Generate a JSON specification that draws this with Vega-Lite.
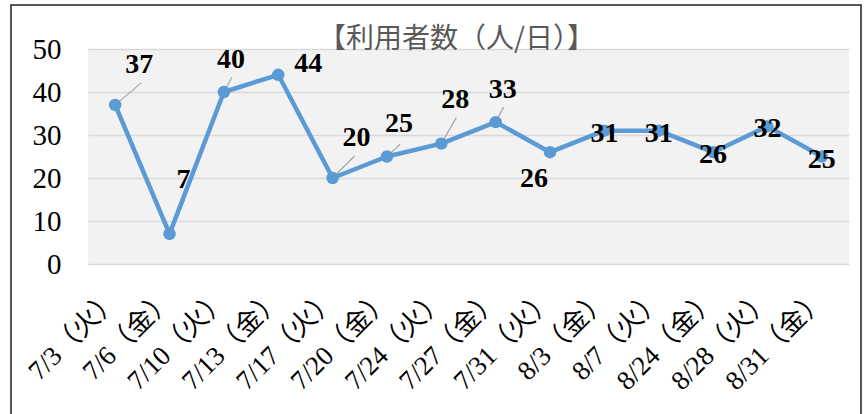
{
  "$schema": "https://vega.github.io/schema/vega-lite/v6.json",
  "width": 761,
  "height": 215,
  "autosize": {"type": "none"},
  "padding": {"left": 88, "top": 49, "right": 18, "bottom": 150},
  "background": "white",
  "config": {"view": {"stroke": null, "fill": "#f2f2f2"}},
  "title": {
    "text": "【利用者数（人/日）】",
    "font": "Noto Sans CJK JP",
    "fontSize": 28,
    "fontWeight": "normal",
    "color": "#595959",
    "anchor": "middle",
    "frame": "group",
    "orient": "top",
    "offset": 0,
    "baseline": "middle",
    "dy": 64,
    "dx": -12
  },
  "datasets": {
    "users": [
      {"date": "7/3（火）", "users": 37},
      {"date": "7/6（金）", "users": 7},
      {"date": "7/10（火）", "users": 40},
      {"date": "7/13（金）", "users": 44},
      {"date": "7/17（火）", "users": 20},
      {"date": "7/20（金）", "users": 25},
      {"date": "7/24（火）", "users": 28},
      {"date": "7/27（金）", "users": 33},
      {"date": "7/31（火）", "users": 26},
      {"date": "8/3（金）", "users": 31},
      {"date": "8/7（火）", "users": 31},
      {"date": "8/24（金）", "users": 26},
      {"date": "8/28（火）", "users": 32},
      {"date": "8/31（金）", "users": 25}
    ],
    "one": [{"k": 1}]
  },
  "data": {"name": "users"},
  "resolve": {"scale": {"x": "independent", "y": "independent"}, "axis": {"x": "independent", "y": "independent"}},
  "layer": [
    {
      "encoding": {
        "x": {
          "field": "date",
          "type": "nominal",
          "sort": null,
          "scale": {
            "type": "band",
            "domain": ["7/3（火）", "7/6（金）", "7/10（火）", "7/13（金）", "7/17（火）", "7/20（金）", "7/24（火）", "7/27（金）", "7/31（火）", "8/3（金）", "8/7（火）", "8/24（金）", "8/28（火）", "8/31（金）"],
            "paddingInner": 0,
            "paddingOuter": 0
          },
          "axis": {
            "orient": "bottom",
            "title": null,
            "domain": false,
            "ticks": false,
            "grid": false,
            "labelAngle": -45,
            "labelAlign": "right",
            "labelBaseline": "middle",
            "labelPadding": 30,
            "labelFont": "Liberation Serif, Noto Sans CJK JP",
            "labelFontSize": 27,
            "labelColor": "#000000",
            "labelLimit": 300,
            "labelOverlap": false,
            "labelBound": false
          }
        },
        "y": {
          "field": "users",
          "type": "quantitative",
          "scale": {"domain": [0, 50], "nice": false, "zero": true},
          "axis": {
            "orient": "left",
            "title": null,
            "domain": false,
            "ticks": false,
            "grid": true,
            "gridColor": "#d9d9d9",
            "gridWidth": 1.5,
            "labelPadding": 27,
            "labelAlign": "right",
            "labelFont": "Liberation Serif",
            "labelFontSize": 29,
            "labelColor": "#000000",
            "values": [0, 10, 20, 30, 40, 50]
          }
        }
      },
      "layer": [
        {
          "transform": [{"filter": {"field": "date", "oneOf": ["7/3（火）"]}}],
          "mark": {"type": "rule", "color": "#a6a6a6", "strokeWidth": 1.2, "x2Offset": 26, "y2Offset": -22},
          "encoding": {
            "x2": {"field": "date", "bandPosition": 0.5},
            "y2": {"field": "users"}
          }
        },
        {
          "transform": [{"filter": {"field": "date", "oneOf": ["7/6（金）"]}}],
          "mark": {"type": "rule", "color": "#a6a6a6", "strokeWidth": 1.2, "x2Offset": 15, "y2Offset": -34},
          "encoding": {
            "x2": {"field": "date", "bandPosition": 0.5},
            "y2": {"field": "users"}
          }
        },
        {
          "transform": [{"filter": {"field": "date", "oneOf": ["7/10（火）", "7/27（金）"]}}],
          "mark": {"type": "rule", "color": "#a6a6a6", "strokeWidth": 1.2, "x2Offset": 8, "y2Offset": -15},
          "encoding": {
            "x2": {"field": "date", "bandPosition": 0.5},
            "y2": {"field": "users"}
          }
        },
        {
          "transform": [{"filter": {"field": "date", "oneOf": ["7/17（火）"]}}],
          "mark": {"type": "rule", "color": "#a6a6a6", "strokeWidth": 1.2, "x2Offset": 22, "y2Offset": -22},
          "encoding": {
            "x2": {"field": "date", "bandPosition": 0.5},
            "y2": {"field": "users"}
          }
        },
        {
          "transform": [{"filter": {"field": "date", "oneOf": ["7/20（金）"]}}],
          "mark": {"type": "rule", "color": "#a6a6a6", "strokeWidth": 1.2, "x2Offset": 13, "y2Offset": -12},
          "encoding": {
            "x2": {"field": "date", "bandPosition": 0.5},
            "y2": {"field": "users"}
          }
        },
        {
          "transform": [{"filter": {"field": "date", "oneOf": ["7/24（火）"]}}],
          "mark": {"type": "rule", "color": "#a6a6a6", "strokeWidth": 1.2, "x2Offset": 15, "y2Offset": -26},
          "encoding": {
            "x2": {"field": "date", "bandPosition": 0.5},
            "y2": {"field": "users"}
          }
        },
        {
          "mark": {"type": "line", "color": "#5b9bd5", "strokeWidth": 4.5, "strokeJoin": "round"}
        },
        {
          "mark": {"type": "point", "filled": true, "size": 155, "color": "#5b9bd5", "opacity": 1}
        },
        {
          "transform": [{"filter": {"field": "date", "oneOf": ["7/3（火）", "7/17（火）"]}}],
          "mark": {"type": "text", "font": "Liberation Serif", "fontSize": 28, "fontWeight": "bold", "color": "#000000", "baseline": "middle", "align": "center", "dx": 24, "dy": -40},
          "encoding": {"text": {"field": "users", "type": "quantitative"}}
        },
        {
          "transform": [{"filter": {"field": "date", "oneOf": ["7/24（火）"]}}],
          "mark": {"type": "text", "font": "Liberation Serif", "fontSize": 28, "fontWeight": "bold", "color": "#000000", "baseline": "middle", "align": "center", "dx": 14, "dy": -44},
          "encoding": {"text": {"field": "users", "type": "quantitative"}}
        },
        {
          "transform": [{"filter": {"field": "date", "oneOf": ["7/10（火）", "7/27（金）"]}}],
          "mark": {"type": "text", "font": "Liberation Serif", "fontSize": 28, "fontWeight": "bold", "color": "#000000", "baseline": "middle", "align": "center", "dx": 7, "dy": -32},
          "encoding": {"text": {"field": "users", "type": "quantitative"}}
        },
        {
          "transform": [{"filter": {"field": "date", "oneOf": ["7/20（金）"]}}],
          "mark": {"type": "text", "font": "Liberation Serif", "fontSize": 28, "fontWeight": "bold", "color": "#000000", "baseline": "middle", "align": "center", "dx": 12, "dy": -33},
          "encoding": {"text": {"field": "users", "type": "quantitative"}}
        },
        {
          "transform": [{"filter": {"field": "date", "oneOf": ["7/6（金）"]}}],
          "mark": {"type": "text", "font": "Liberation Serif", "fontSize": 28, "fontWeight": "bold", "color": "#000000", "baseline": "middle", "align": "center", "dx": 14, "dy": -54},
          "encoding": {"text": {"field": "users", "type": "quantitative"}}
        },
        {
          "transform": [{"filter": {"field": "date", "oneOf": ["7/13（金）"]}}],
          "mark": {"type": "text", "font": "Liberation Serif", "fontSize": 28, "fontWeight": "bold", "color": "#000000", "baseline": "middle", "align": "center", "dx": 30, "dy": -11},
          "encoding": {"text": {"field": "users", "type": "quantitative"}}
        },
        {
          "transform": [{"filter": {"field": "date", "oneOf": ["7/31（火）"]}}],
          "mark": {"type": "text", "font": "Liberation Serif", "fontSize": 28, "fontWeight": "bold", "color": "#000000", "baseline": "middle", "align": "center", "dx": -16, "dy": 27},
          "encoding": {"text": {"field": "users", "type": "quantitative"}}
        },
        {
          "transform": [{"filter": {"field": "date", "oneOf": ["8/3（金）", "8/7（火）", "8/24（金）", "8/28（火）", "8/31（金）"]}}],
          "mark": {"type": "text", "font": "Liberation Serif", "fontSize": 28, "fontWeight": "bold", "color": "#000000", "baseline": "middle", "align": "center", "dx": 0, "dy": 3},
          "encoding": {"text": {"field": "users", "type": "quantitative"}}
        }
      ]
    },
    {
      "data": {"name": "one"},
      "mark": {"type": "rect", "fillOpacity": 0, "stroke": "#1f1f1f", "strokeWidth": 1.5},
      "encoding": {
        "x": {"datum": 0, "type": "quantitative", "scale": {"domain": [0, 1], "range": [-77, 773], "nice": false, "zero": false}, "axis": null},
        "x2": {"datum": 1},
        "y": {"datum": 0, "type": "quantitative", "scale": {"domain": [0, 1], "range": [370, -44], "nice": false, "zero": false}, "axis": null},
        "y2": {"datum": 1}
      }
    }
  ]
}
